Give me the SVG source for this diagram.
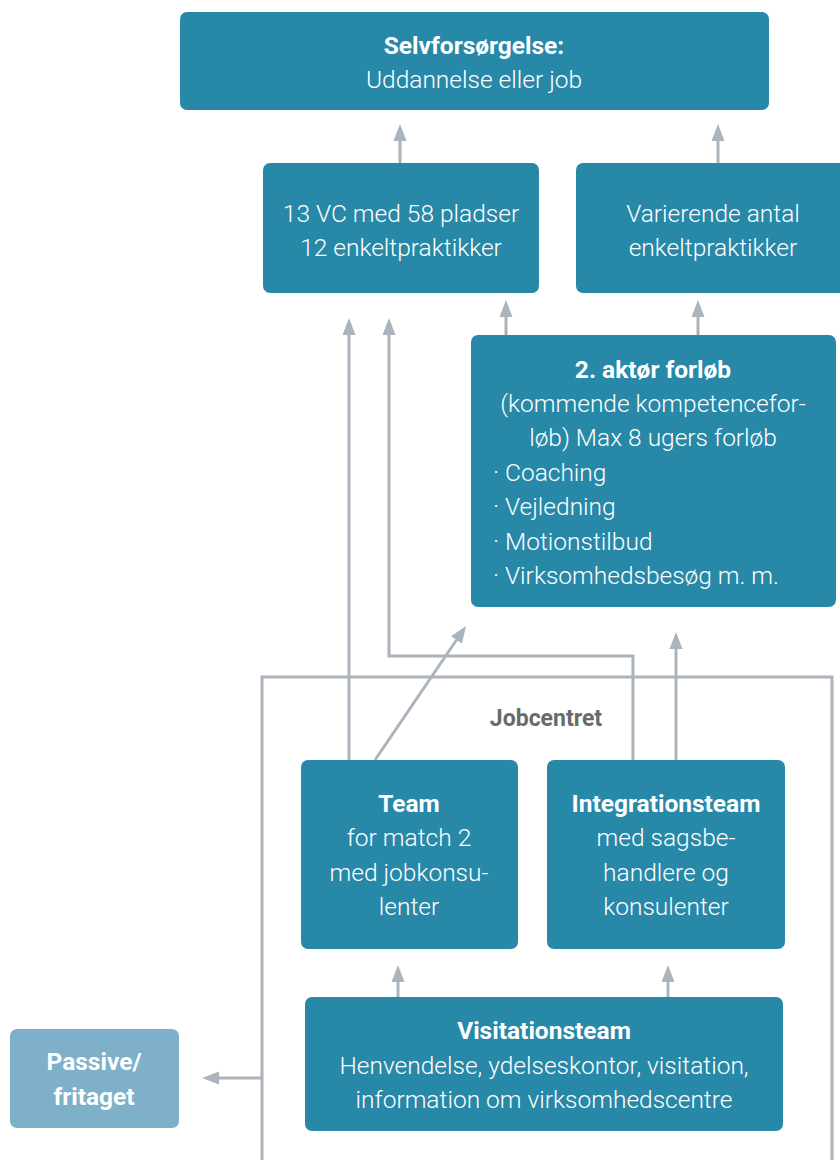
<svg xmlns="http://www.w3.org/2000/svg" width="840" height="1160" viewBox="0 0 840 1160">
  <style>
    .box { fill: #2788a8; }
    .box-light { fill: #7eb0c9; }
    .t { font-family: Roboto, "Noto Sans", "Liberation Sans", sans-serif; font-size: 24.5px; fill: #ffffff; font-weight: 300; }
    .c { text-anchor: middle; }
    .b { font-weight: 700; }
    .link { fill: none; stroke: #abb4bc; stroke-width: 3; }
    .frame-label { font-family: Roboto, "Noto Sans", "Liberation Sans", sans-serif; font-size: 23px; font-weight: 700; fill: #6a6a6a; text-anchor: middle; }
  </style>
  <defs>
    <marker id="arrow" markerUnits="userSpaceOnUse" markerWidth="20" markerHeight="16" refX="0" refY="7" orient="auto" viewBox="0 0 20 14">
      <path d="M0,0.5 L17,7 L0,13.5 z" fill="#abb4bc"/>
    </marker>
  </defs>

  <rect width="840" height="1160" fill="#ffffff"/>

  <!-- Jobcentret frame -->
  <g id="jobcentret">
    <path class="link" d="M262,1160 V677 H832 V1160"/>
    <text class="frame-label" x="546" y="726">Jobcentret</text>
  </g>

  <!-- connectors -->
  <g id="connectors">
    <line class="link" x1="400" y1="163" x2="400" y2="141" marker-end="url(#arrow)"/>
    <line class="link" x1="718" y1="163" x2="718" y2="141" marker-end="url(#arrow)"/>
    <line class="link" x1="506" y1="335" x2="506" y2="317" marker-end="url(#arrow)"/>
    <line class="link" x1="698" y1="335" x2="698" y2="317" marker-end="url(#arrow)"/>
    <line class="link" x1="349" y1="760" x2="349" y2="335" marker-end="url(#arrow)"/>
    <path class="link" d="M633,762 V656 H389 V335" marker-end="url(#arrow)"/>
    <line class="link" x1="375" y1="760" x2="456.5" y2="640" marker-end="url(#arrow)"/>
    <line class="link" x1="676" y1="760" x2="676" y2="649" marker-end="url(#arrow)"/>
    <line class="link" x1="398" y1="997" x2="398" y2="982" marker-end="url(#arrow)"/>
    <line class="link" x1="668" y1="997" x2="668" y2="982" marker-end="url(#arrow)"/>
    <line class="link" x1="262" y1="1078" x2="219" y2="1078" marker-end="url(#arrow)"/>
  </g>

  <!-- nodes -->
  <g id="selvforsoergelse">
    <rect class="box" x="180" y="12" width="589" height="98" rx="7"/>
    <text class="t c b" x="474" y="54">Selvforsørgelse:</text>
    <text class="t c" x="474" y="88">Uddannelse eller job</text>
  </g>

  <g id="vc-pladser">
    <rect class="box" x="263" y="163" width="276" height="130" rx="7"/>
    <text class="t c" x="401" y="222">13 VC med 58 pladser</text>
    <text class="t c" x="401" y="256">12 enkeltpraktikker</text>
  </g>

  <g id="varierende">
    <rect class="box" x="576" y="163" width="274" height="130" rx="7"/>
    <text class="t c" x="713" y="222">Varierende antal</text>
    <text class="t c" x="713" y="256">enkeltpraktikker</text>
  </g>

  <g id="aktoer-forloeb">
    <rect class="box" x="471" y="335" width="365" height="272" rx="7"/>
    <text class="t c b" x="653" y="378">2. aktør forløb</text>
    <text class="t c" x="653" y="412">(kommende kompetencefor-</text>
    <text class="t c" x="653" y="446">løb) Max 8 ugers forløb</text>
    <text class="t" x="493" y="481">· Coaching</text>
    <text class="t" x="493" y="515">· Vejledning</text>
    <text class="t" x="493" y="550">· Motionstilbud</text>
    <text class="t" x="493" y="584">· Virksomhedsbesøg m. m.</text>
  </g>

  <g id="team">
    <rect class="box" x="301" y="760" width="217" height="189" rx="7"/>
    <text class="t c b" x="409" y="812">Team</text>
    <text class="t c" x="409" y="846">for match 2</text>
    <text class="t c" x="409" y="881">med jobkonsu-</text>
    <text class="t c" x="409" y="915">lenter</text>
  </g>

  <g id="integrationsteam">
    <rect class="box" x="547" y="760" width="238" height="189" rx="7"/>
    <text class="t c b" x="666" y="812">Integrationsteam</text>
    <text class="t c" x="666" y="846">med sagsbe-</text>
    <text class="t c" x="666" y="881">handlere og</text>
    <text class="t c" x="666" y="915">konsulenter</text>
  </g>

  <g id="visitationsteam">
    <rect class="box" x="305" y="997" width="478" height="134" rx="7"/>
    <text class="t c b" x="544" y="1039">Visitationsteam</text>
    <text class="t c" x="544" y="1074">Henvendelse, ydelseskontor, visitation,</text>
    <text class="t c" x="544" y="1108">information om virksomhedscentre</text>
  </g>

  <g id="passive">
    <rect class="box-light" x="10" y="1029" width="169" height="99" rx="7"/>
    <text class="t c b" x="94" y="1070">Passive/</text>
    <text class="t c b" x="94" y="1105">fritaget</text>
  </g>
</svg>
